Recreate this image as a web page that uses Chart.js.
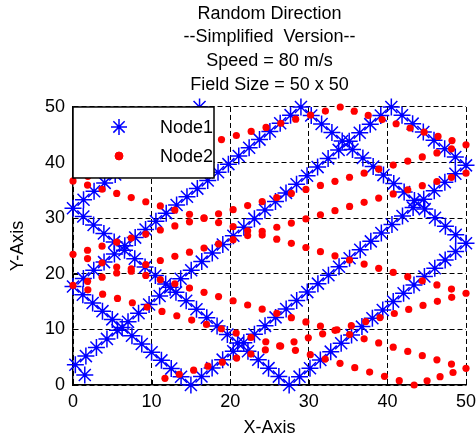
<!DOCTYPE html>
<html>
<head>
<meta charset="utf-8">
<script src="https://cdn.jsdelivr.net/npm/chart.js@4/dist/chart.umd.min.js"></script>
<style>
html,body{margin:0;padding:0;background:#fff;}
canvas{display:block;}
</style>
</head>
<body>
<canvas id="c" width="476" height="439"></canvas>
<script>
// ---------- data ----------
const titleLines = ['Random Direction', '--Simplified  Version--', 'Speed = 80 m/s', 'Field Size = 50 x 50'];
const xAxisTitle = 'X-Axis';
const yAxisTitle = 'Y-Axis';
const xTicks = [0, 10, 20, 30, 40, 50];
const yTicks = [0, 10, 20, 30, 40, 50];
const seriesNames = ['Node1', 'Node2'];

const node1X = [1.5,
 0.3, 1.64, 2.98, 4.32, 5.66, 7.0, 8.34, 9.68, 11.02, 12.36, 13.7, 15.04, 16.38, 17.72, 19.06, 20.4, 21.74, 23.08, 24.42, 25.76, 27.1, 28.44, 29.78, 31.12, 32.46, 33.8, 35.14, 36.48, 37.82, 39.16, 40.5,
 41.86, 43.21, 44.57, 45.93, 47.29, 48.64, 50.0,
 48.65, 47.31, 45.96, 44.62, 43.27, 41.92, 40.58, 39.23, 37.89, 36.54, 35.19, 33.85, 32.5, 31.16, 29.81, 28.46, 27.12, 25.77, 24.43, 23.08, 21.73, 20.39, 19.04, 17.7, 16.35, 15.0,
 13.75, 12.5, 11.25, 10.0, 8.75, 7.5, 6.25, 5.0, 3.75, 2.5, 1.25, 0.0,
 1.32, 2.64, 3.95, 5.27, 6.59, 7.91, 9.23, 10.55, 11.86, 13.18, 14.5, 15.82, 17.14, 18.45, 19.77, 21.09, 22.41, 23.73, 25.05, 26.36, 27.68, 29.0,
 30.31, 31.63, 32.94, 34.25, 35.56, 36.88, 38.19, 39.5, 40.81, 42.13, 43.44, 44.75, 46.06, 47.38, 48.69, 50.0,
 48.68, 47.35, 46.03, 44.71, 43.38, 42.06, 40.74, 39.41, 38.09, 36.76, 35.44, 34.12, 32.79, 31.47, 30.15, 28.82, 27.5,
 26.19, 24.88, 23.57, 22.26, 20.95, 19.64, 18.33, 17.02, 15.71, 14.4, 13.1, 11.79, 10.48, 9.17, 7.86, 6.55, 5.24, 3.93, 2.62, 1.31, 0.0,
 1.34, 2.68, 4.03, 5.37, 6.71, 8.05, 9.39, 10.73, 12.08, 13.42, 14.76, 16.1];
const node1Y = [1.8,
 3.65, 5.2, 6.74, 8.29, 9.83, 11.38, 12.92, 14.47, 16.01, 17.56, 19.1, 20.65, 22.19, 23.74, 25.28, 26.83, 28.37, 29.92, 31.46, 33.01, 34.55, 36.1, 37.64, 39.19, 40.73, 42.28, 43.82, 45.37, 46.91, 48.46, 50.0,
 48.5, 47.0, 45.5, 44.0, 42.5, 41.0, 39.5,
 37.98, 36.46, 34.94, 33.42, 31.9, 30.39, 28.87, 27.35, 25.83, 24.31, 22.79, 21.27, 19.75, 18.23, 16.71, 15.2, 13.68, 12.16, 10.64, 9.12, 7.6, 6.08, 4.56, 3.04, 1.52, 0.0,
 1.48, 2.95, 4.43, 5.9, 7.38, 8.85, 10.33, 11.8, 13.28, 14.75, 16.23, 17.7,
 19.17, 20.64, 22.1, 23.57, 25.04, 26.51, 27.98, 29.45, 30.91, 32.38, 33.85, 35.32, 36.79, 38.25, 39.72, 41.19, 42.66, 44.13, 45.6, 47.06, 48.53, 50.0,
 48.47, 46.94, 45.41, 43.88, 42.34, 40.81, 39.28, 37.75, 36.22, 34.69, 33.16, 31.63, 30.09, 28.56, 27.03, 25.5,
 24.0, 22.5, 21.0, 19.5, 18.0, 16.5, 15.0, 13.5, 12.0, 10.5, 9.0, 7.5, 6.0, 4.5, 3.0, 1.5, 0.0,
 1.51, 3.03, 4.54, 6.06, 7.57, 9.09, 10.6, 12.11, 13.63, 15.14, 16.66, 18.17, 19.69, 21.2, 22.71, 24.23, 25.74, 27.26, 28.77, 30.29, 31.8,
 33.32, 34.83, 36.35, 37.87, 39.38, 40.9, 42.42, 43.93, 45.45, 46.97, 48.48, 50.0];

const node2X = [
 11.7, 13.52, 15.35, 17.17, 19.0, 20.82, 22.64, 24.47, 26.29, 28.12, 29.94, 31.76, 33.59, 35.41, 37.24, 39.06, 40.88, 42.71, 44.53, 46.36, 48.18, 50.0,
 48.15, 46.3, 44.44, 42.59, 40.74, 38.89, 37.04, 35.18, 33.33, 31.48, 29.63, 27.78, 25.92, 24.07, 22.22, 20.37, 18.52, 16.67, 14.82, 12.96, 11.11, 9.26, 7.41, 5.56, 3.7, 1.85, 0.0,
 1.89, 3.78, 5.67, 7.56, 9.44, 11.33, 13.22, 15.11, 17.0, 18.89, 20.78, 22.67, 24.56, 26.44, 28.33, 30.22, 32.11, 34.0,
 35.78, 37.56, 39.33, 41.11, 42.89, 44.67, 46.44, 48.22, 50.0,
 48.15, 46.3, 44.44, 42.59, 40.74, 38.89, 37.04, 35.18, 33.33, 31.48, 29.63, 27.78, 25.92, 24.07, 22.22, 20.37, 18.52, 16.67, 14.82, 12.96, 11.11, 9.26, 7.41, 5.56, 3.7, 1.85, 0.0,
 1.85, 3.7, 5.56, 7.41, 9.26, 11.11, 12.96, 14.82, 16.67, 18.52, 20.37, 22.22, 24.07, 25.93, 27.78, 29.63, 31.48, 33.33, 35.19, 37.04, 38.89, 40.74, 42.59, 44.44, 46.3, 48.15, 50.0,
 48.35, 46.7, 45.05, 43.4,
 41.51, 39.63, 37.74, 35.85, 33.97, 32.08, 30.19, 28.3, 26.42, 24.53, 22.64, 20.76, 18.87, 16.98, 15.1, 13.21, 11.32, 9.43, 7.55, 5.66, 3.77, 1.89, 0.0,
 1.85, 3.7, 5.56, 7.41, 9.26, 11.11, 12.96, 14.82, 16.67, 18.52, 20.37, 22.22, 24.07, 25.93, 27.78, 29.63, 31.48, 33.33, 35.19, 37.04, 38.89, 40.74, 42.59, 44.44, 46.3, 48.15, 50.0];
const node2Y = [
 1.2, 1.93, 2.66, 3.39, 4.11, 4.84, 5.57, 6.3, 7.03, 7.76, 8.49, 9.21, 9.94, 10.67, 11.4, 12.13, 12.86, 13.59, 14.31, 15.04, 15.77, 16.5,
 17.25, 17.99, 18.74, 19.49, 20.24, 20.99, 21.74, 22.48, 23.23, 23.98, 24.73, 25.48, 26.22, 26.97, 27.72, 28.47, 29.22, 29.96, 30.71, 31.46, 32.21, 32.96, 33.7, 34.45, 35.2, 35.95, 36.7,
 37.53, 38.27, 39.0, 39.73, 40.47, 41.2, 41.93, 42.67, 43.4, 44.13, 44.87, 45.6, 46.33, 47.07, 47.8, 48.53, 49.27, 50.0,
 49.24, 48.49, 47.73, 46.98, 46.22, 45.47, 44.71, 43.96, 43.2,
 42.47, 41.74, 41.01, 40.28, 39.55, 38.82, 38.09, 37.36, 36.63, 35.9, 35.18, 34.45, 33.72, 32.99, 32.26, 31.53, 30.8, 30.07, 29.34, 28.61, 27.88, 27.15, 26.42, 25.69, 24.96, 24.23, 23.5,
 22.74, 21.98, 21.22, 20.46, 19.7, 18.94, 18.19, 17.43, 16.67, 15.91, 15.15, 14.39, 13.63, 12.87, 12.11, 11.35, 10.59, 9.83, 9.07, 8.31, 7.56, 6.8, 6.04, 5.28, 4.52, 3.76, 3.0,
 2.25, 1.5, 0.75, 0.0,
 0.78, 1.56, 2.33, 3.11, 3.89, 4.67, 5.45, 6.23, 7.0, 7.78, 8.56, 9.34, 10.12, 10.9, 11.67, 12.45, 13.23, 14.01, 14.79, 15.57, 16.34, 17.12, 17.9,
 18.65, 19.4, 20.14, 20.89, 21.64, 22.39, 23.14, 23.88, 24.63, 25.38, 26.13, 26.88, 27.62, 28.37, 29.12, 29.87, 30.62, 31.36, 32.11, 32.86, 33.61, 34.36, 35.1, 35.85, 36.6, 37.35, 38.1];

// ---------- helpers ----------
const FONT = "'Liberation Sans', Arial, Helvetica, sans-serif";
const toPoints = (xs, ys) => xs.map((x, i) => ({x: x, y: ys[i]}));

function drawMarker(ctx, style, radius, x, y) {
  if (Chart.helpers && Chart.helpers.drawPoint) {
    Chart.helpers.drawPoint(ctx, {pointStyle: style, radius: radius, borderWidth: ctx.lineWidth, rotation: 0}, x, y);
    return;
  }
  ctx.beginPath();
  if (style === 'star') {
    const d = radius * Math.SQRT1_2;
    ctx.moveTo(x - radius, y); ctx.lineTo(x + radius, y);
    ctx.moveTo(x, y - radius); ctx.lineTo(x, y + radius);
    ctx.moveTo(x - d, y - d); ctx.lineTo(x + d, y + d);
    ctx.moveTo(x - d, y + d); ctx.lineTo(x + d, y - d);
    ctx.stroke();
  } else {
    ctx.arc(x, y, radius, 0, Math.PI * 2);
    ctx.fill();
  }
}

// legend drawn inside the plot, on top of the data (like MATLAB)
const boxLegend = {
  id: 'boxLegend',
  afterDatasetsDraw(chart) {
    const {ctx, chartArea: a} = chart;
    const x0 = a.left, y0 = a.top, w = 141, h = 71;
    ctx.save();
    ctx.fillStyle = '#fff';
    ctx.fillRect(x0, y0, w, h);
    ctx.strokeStyle = '#000';
    ctx.lineWidth = 1.5;
    ctx.strokeRect(x0, y0, w, h);
    const rowY = [y0 + 20, y0 + 49];
    chart.data.datasets.forEach((d, i) => {
      const cx = x0 + 46, cy = rowY[i];
      ctx.strokeStyle = d.borderColor;
      ctx.fillStyle = d.backgroundColor;
      ctx.lineWidth = d.pointBorderWidth || 1;
      drawMarker(ctx, d.pointStyle, i === 0 ? 8 : 4, cx, cy);
      ctx.fillStyle = '#000';
      ctx.font = '18px ' + FONT;
      ctx.textAlign = 'left';
      ctx.textBaseline = 'middle';
      ctx.fillText(d.label, x0 + 87, cy + 1);
    });
    ctx.restore();
  }
};

// MATLAB-style inward tick marks
const innerTicks = {
  id: 'innerTicks',
  beforeDatasetsDraw(chart) {
    const {ctx, chartArea: a, scales} = chart;
    ctx.save();
    ctx.strokeStyle = '#000';
    ctx.lineWidth = 1;
    ctx.beginPath();
    xTicks.forEach(v => {
      const px = Math.round(scales.x.getPixelForValue(v)) + 0.5;
      ctx.moveTo(px, a.bottom); ctx.lineTo(px, a.bottom - 5);
    });
    yTicks.forEach(v => {
      const py = Math.round(scales.y.getPixelForValue(v)) + 0.5;
      ctx.moveTo(a.left, py); ctx.lineTo(a.left + 5, py);
    });
    ctx.stroke();
    ctx.restore();
  }
};

const axisCommon = (ticks) => ({
  type: 'linear',
  min: 0,
  max: 50,
  afterBuildTicks: s => { s.ticks = ticks.map(v => ({value: v})); },
  grid: {color: '#000', lineWidth: 1, drawTicks: false, borderDash: [5, 3]},
  border: {display: true, color: '#000', width: 1.5, dash: [5, 3]}
});

new Chart(document.getElementById('c'), {
  type: 'scatter',
  data: {
    datasets: [
      {
        label: seriesNames[0],
        data: toPoints(node1X, node1Y),
        showLine: false,
        pointStyle: 'star',
        pointRadius: 8.5,
        pointBorderWidth: 1.5,
        borderColor: '#0000ff',
        backgroundColor: '#0000ff',
        clip: false,
        order: 2
      },
      {
        label: seriesNames[1],
        data: toPoints(node2X, node2Y),
        showLine: false,
        pointStyle: 'circle',
        pointRadius: 3.6,
        pointBorderWidth: 0,
        borderColor: '#ff0000',
        backgroundColor: '#ff0000',
        clip: false,
        order: 1
      }
    ]
  },
  options: {
    responsive: false,
    devicePixelRatio: 1,
    animation: false,
    events: [],
    layout: {padding: {left: 0, right: 3, top: 0, bottom: 0}},
    plugins: {
      legend: {display: false},
      tooltip: {enabled: false},
      title: {
        display: true,
        text: titleLines,
        color: '#000',
        fullSize: false,
        font: {family: FONT, size: 18, weight: 'normal', lineHeight: 1.315},
        padding: {top: 2, bottom: 10.3}
      }
    },
    scales: {
      x: Object.assign(axisCommon(xTicks), {
        position: 'bottom',
        ticks: {color: '#000', font: {family: FONT, size: 18}, padding: 6, maxRotation: 0, autoSkip: false},
        title: {display: true, text: xAxisTitle, color: '#000', font: {family: FONT, size: 18, lineHeight: 1.2}, padding: {top: 0, bottom: 0}},
        afterFit: s => { s.height = 54; s.paddingLeft = 0; s.paddingRight = 0; }
      }),
      y: Object.assign(axisCommon(yTicks), {
        position: 'left',
        ticks: {color: '#000', font: {family: FONT, size: 18}, padding: 8},
        title: {display: true, text: yAxisTitle, color: '#000', font: {family: FONT, size: 18, lineHeight: 1.2}, padding: {top: 7, bottom: 0}},
        afterFit: s => { s.width = 73; s.paddingTop = 0; s.paddingBottom = 0; }
      })
    }
  },
  plugins: [innerTicks, boxLegend]
});
</script>
</body>
</html>
